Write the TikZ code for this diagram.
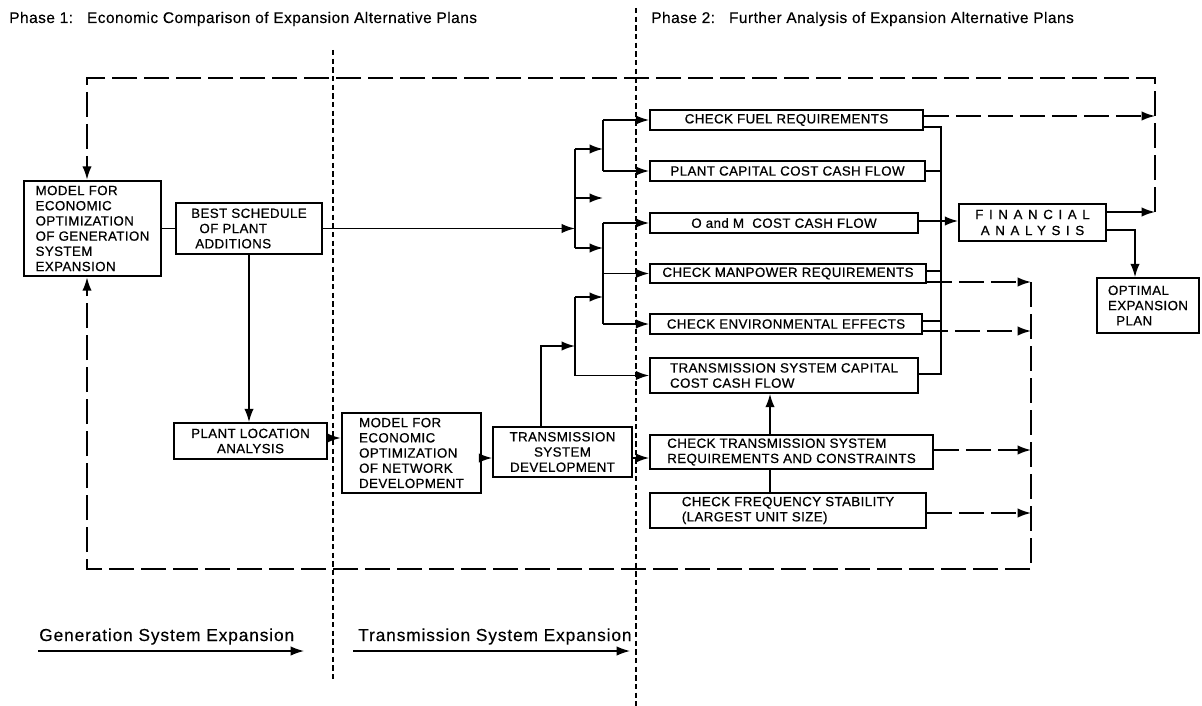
\documentclass[tikz,border=0pt]{standalone}
\usepackage{fontspec}
\setmainfont{Liberation Sans}
\newfontfamily\lettering[LetterSpace=3,FakeBold=0.6]{Liberation Sans}
\newfontfamily\widelettering[LetterSpace=42,FakeBold=0.6]{Liberation Sans}
\newfontfamily\headfont[LetterSpace=3,FakeBold=0.3]{Liberation Sans}
\newfontfamily\footfont[LetterSpace=5,FakeBold=0.3]{Liberation Sans}
\usetikzlibrary{arrows.meta}

\begin{document}
\begin{tikzpicture}[x=0.75pt,y=-0.75pt,
  % a box given by its left, top, right and bottom edges
  span/.style n args={4}{minimum width={(#3-#1)*0.75pt}, minimum height={(#4-#2)*0.75pt},
    at={({(#1+#3)/2},{(#2+#4)/2})}},
  box/.style={draw, rectangle, line width=1.2pt, inner sep=0pt, anchor=center,
    font=\lettering\fontsize{10}{11.4}\selectfont},
  heavybox/.style={box, line width=2pt},
  wire/.style={line width=1.25pt},
  arr/.style={-{Latex[length=10pt,width=7pt]}},
  feedback/.style={line width=1.25pt, dash pattern=on 19pt off 5pt},
  divider/.style={line width=0.9pt, dash pattern=on 4pt off 2.5pt},
  headtext/.style={font=\headfont\fontsize{11.6}{13}\selectfont, anchor=base west, inner sep=0pt},
  foottext/.style={font=\footfont\fontsize{13}{15}\selectfont, anchor=base west, inner sep=0pt}
]
\useasboundingbox[fill=white] (0,0) rectangle (1202,706);

% ---- headings
\node[headtext] (ph1) at (9,23) {Phase 1:\hspace{0.9em}Economic Comparison of Expansion Alternative Plans};
\node[headtext] (ph2) at (651,23) {Phase 2:\hspace{0.9em}Further Analysis of Expansion Alternative Plans};

% ---- phase dividers
\draw[divider] (333,50) -- (333,680);
\draw[divider] (636,8) -- (636,706);

% ---- boxes, phase 1
\node[heavybox, span={24}{181}{161}{276}, align=left] (gen)
  {MODEL FOR\\ECONOMIC\\OPTIMIZATION\\OF GENERATION\\SYSTEM\\EXPANSION};
\node[box, span={176}{203}{322}{254}, align=left] (best)
  {BEST SCHEDULE\\\ \ OF PLANT\\\ ADDITIONS};
\node[box, span={174}{423}{327}{459}, align=center] (ploc)
  {PLANT LOCATION\\ANALYSIS};
\node[heavybox, span={342}{413}{481}{493}, align=left] (net)
  {MODEL FOR\\ECONOMIC\\OPTIMIZATION\\OF NETWORK\\DEVELOPMENT};
\node[box, span={493}{427}{632}{477}, align=center] (tsd)
  {TRANSMISSION\\SYSTEM\\DEVELOPMENT};

% ---- boxes, phase 2
\node[box, span={650}{110}{923}{130}] (fuel) {CHECK FUEL REQUIREMENTS};
\node[box, span={650}{161}{925}{181}] (pcap) {PLANT CAPITAL COST CASH FLOW};
\node[box, span={650}{213}{918}{233}] (om) {O and M\ \ COST CASH FLOW};
\node[box, span={650}{264}{926}{283}] (man) {CHECK MANPOWER REQUIREMENTS};
\node[box, span={650}{314}{922}{334}] (env) {CHECK ENVIRONMENTAL EFFECTS};
\node[box, span={650}{358}{918}{393}, align=left] (tcap)
  {TRANSMISSION SYSTEM CAPITAL\\COST CASH FLOW};
\node[box, span={650}{435}{933}{469}, align=left] (ctr)
  {CHECK TRANSMISSION SYSTEM\\REQUIREMENTS AND CONSTRAINTS};
\node[box, span={650}{493}{926}{528}, align=left] (freq)
  {CHECK FREQUENCY STABILITY\\(LARGEST UNIT SIZE)};
\node[box, span={959}{204}{1106}{241}, align=center,
  font=\widelettering\fontsize{10}{12}\selectfont] (fin)
  {FINANCIAL\\ANALYSIS};
\node[box, span={1097}{278}{1199}{333}, align=left] (opt)
  {OPTIMAL\\EXPANSION\\\ \ PLAN};

% ---- junction points of the distribution tree
\coordinate (ja) at (575,228);
\coordinate (jaT) at (575,149);
\coordinate (jaM) at (575,198);
\coordinate (jaB) at (575,248);
\coordinate (jbT) at (603,149);
\coordinate (jbM) at (603,198);
\coordinate (jbB) at (603,248);
\coordinate (jcT) at (603,297);
\coordinate (jdT) at (575,297);
\coordinate (jdM) at (575,346);
\coordinate (te) at (541,346);
\coordinate (busT) at (941,127);
\coordinate (busB) at (941,374);
\coordinate (fa) at (1155,212);
\coordinate (fb) at (1155,116);
\coordinate (fc) at (1155,78);
\coordinate (fd) at (87,78);
\coordinate (ga) at (1031,282);
\coordinate (gb) at (1031,331);
\coordinate (gc) at (1031,450);
\coordinate (gd) at (1031,513);
\coordinate (ge) at (1031,569);
\coordinate (gf) at (87,569);
\coordinate (oc) at (1135,230);

% ---- solid connectors
\draw[wire] (gen.east) -- (best.west);
\draw[wire,arr] (best.east) -- (best.east -| ja);
\draw[wire] (jaT) -- (jaB);
\draw[wire,arr] (jaT) -- (jbT);
\draw[wire,arr] (jaM) -- (jbM);
\draw[wire,arr] (jaB) -- (jbB);
\draw[wire] (jbT |- fuel.west) -- (jbT |- pcap.west);
\draw[wire,arr] (jbT |- fuel.west) -- (fuel.west);
\draw[wire,arr] (jbT |- pcap.west) -- (pcap.west);
\draw[wire] (jbT |- om.west) -- (jbT |- env.west);
\draw[wire,arr] (jbT |- om.west) -- (om.west);
\draw[wire,arr] (jbT |- man.west) -- (man.west);
\draw[wire,arr] (jbT |- env.west) -- (env.west);
\draw[wire,arr] (jdT) -- (jcT);
\draw[wire] (jdT) -- (jdT |- tcap.west);
\draw[wire,arr] (jdT |- tcap.west) -- (tcap.west);
\draw[wire,arr] (te |- tsd.north) -- (te) -- (jdM);

\draw[wire,arr] (best.south) -- (best.south |- ploc.north);
\draw[wire,arr] (ploc.east |- 0,438) -- (net.west |- 0,438);
\draw[wire,arr] (net.east |- 0,458) -- (tsd.west |- 0,458);
\draw[wire,arr] (tsd.east |- 0,458) -- (ctr.west |- 0,458);
\draw[wire,arr] (ctr.north -| 770,0) -- (tcap.south -| 770,0);
\draw[wire] (ctr.south -| 770,0) -- (freq.north -| 770,0);

% collecting bus on the right of the check boxes
\draw[wire] (fuel.east |- busT) -- (busT) -- (busB) -- (tcap.east |- busB);
\draw[wire] (pcap.east) -- (pcap.east -| busT);
\draw[wire] (man.east |- 0,271) -- (busT |- 0,271);
\draw[wire] (env.east |- 0,321) -- (busT |- 0,321);
\draw[wire,arr] (om.east |- 0,221) -- (fin.west |- 0,221);

\draw[wire,arr] (fin.east |- fa) -- (fa);
\draw[wire,arr] (fin.east |- oc) -- (oc) -- (oc |- opt.north);

% ---- dashed feedback connectors
\draw[feedback,arr] (fuel.east |- fb) -- (fb);
\draw[feedback,arr] (fa) -- (fc) -- (fd) -- (fd |- gen.north);
\draw[feedback,arr] (man.east |- ga) -- (ga);
\draw[feedback,arr] (env.east |- gb) -- (gb);
\draw[feedback,arr] (ctr.east |- gc) -- (gc);
\draw[feedback,arr] (freq.east |- gd) -- (gd);
\draw[feedback,arr] (ga) -- (ge) -- (gf) -- (gf |- gen.south);

% ---- legend at the bottom
\node[foottext] (lg) at (39,641) {Generation System Expansion};
\node[foottext] (lt) at (358,641) {Transmission System Expansion};
\coordinate (lga) at (38,651);
\coordinate (lgb) at (304,651);
\coordinate (lta) at (353,651);
\coordinate (ltb) at (630,651);
\draw[line width=1pt,arr] (lga) -- (lgb);
\draw[line width=1pt,arr] (lta) -- (ltb);
\end{tikzpicture}
\end{document}
